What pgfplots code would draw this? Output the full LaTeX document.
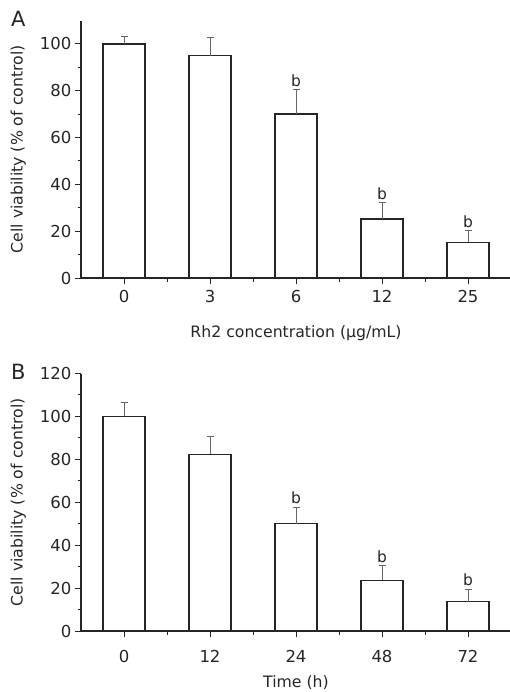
\documentclass[border=0pt]{standalone}
\usepackage{fontspec}
\setmainfont{DejaVu Sans}
\usepackage{pgfplots}
\pgfplotsset{compat=1.18}

\pgfplotstableread{
x y err
0 100 3.3
1 95.0 7.7
2 70.1 10.4
3 25.2 7.0
4 15.3 4.9
}\dosedata

\pgfplotstableread{
x y err
0 100 6.3
1 82.3 8.5
2 50.0 7.6
3 23.7 6.7
4 13.7 5.7
}\timedata

\pgfplotsset{
  viab/.style={
    scale only axis, width=430bp, height=257.5bp,
    anchor=south west,
    axis lines=left,
    axis line style={-, line width=1.2bp, black!85},
    every tick/.style={black!85, line width=1bp},
    tick align=outside,
    major tick length=6bp, minor tick length=3.5bp,
    xmin=-0.5, xmax=4.5,
    xtick={0,...,4},
    minor xtick={0.5,1.5,2.5,3.5},
    ymin=0,
    /pgf/number format/assume math mode=true,
    tick label style={font=\fontsize{16.5bp}{19bp}\selectfont, black!85},
    label style={font=\fontsize{15.7bp}{18bp}\selectfont, black!85},
    ylabel={Cell viability (\% of control)},
    ylabel style={at={(axis description cs:-0.146,0.5)}, anchor=center},
    clip=false,
  },
  viabbar/.style={
    ybar, bar width=42bp, fill=white, draw=black!85, line width=1.2bp,
    error bars/.cd, y dir=plus, y explicit,
    error bar style={black!60, line width=1bp},
    error mark options={rotate=90, mark size=3.5bp, black!60, line width=1bp},
  },
  bmark/.style={
    draw=none, mark=none, forget plot,
    nodes near coords={b},
    every node near coord/.style={anchor=south, inner sep=3bp,
      font=\fontsize{15.5bp}{18bp}\selectfont, black!85},
  },
}

\begin{document}
\begin{tikzpicture}
\useasboundingbox (0,0) rectangle (510bp,-692bp);

\begin{axis}[viab, at={(81bp,-278bp)},
  ymax=110, ytick={0,20,...,100}, minor ytick={10,30,...,90},
  xticklabels={0,3,6,12,25},
  xticklabel style={yshift=-3bp},
  xlabel={Rh2 concentration (μg/mL)},
  xlabel style={yshift=-16bp},
]
\addplot[viabbar] table[x=x, y=y, y error=err] {\dosedata};
\addplot[bmark] coordinates {(2,80.5) (3,32.2) (4,20.2)};
\end{axis}
\node[anchor=north west, inner sep=0pt, font=\fontsize{21bp}{24bp}\selectfont, black!85] at (11bp,-11bp) {A};

\begin{axis}[viab, at={(81bp,-631bp)},
  ymax=120, ytick={0,20,...,120}, minor ytick={10,30,...,110},
  xticklabels={0,12,24,48,72},
  xticklabel style={yshift=-10bp},
  xlabel={Time (h)},
  xlabel style={yshift=-6bp},
]
\addplot[viabbar] table[x=x, y=y, y error=err] {\timedata};
\addplot[bmark] coordinates {(2,57.6) (3,30.4) (4,19.4)};
\end{axis}
\node[anchor=north west, inner sep=0pt, font=\fontsize{21bp}{24bp}\selectfont, black!85] at (11bp,-364bp) {B};
\end{tikzpicture}
\end{document}
